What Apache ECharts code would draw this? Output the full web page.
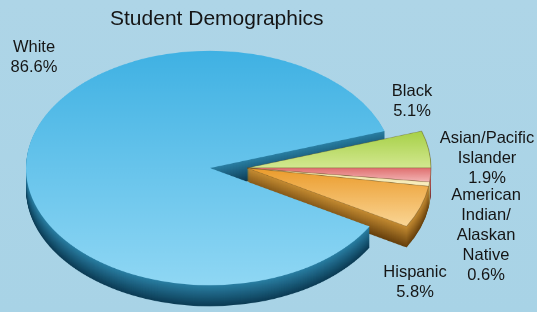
<!DOCTYPE html>
<html>
<head>
<meta charset="utf-8">
<script src="https://cdn.jsdelivr.net/npm/echarts@6/dist/echarts.min.js"></script>
<style>
  html, body { margin: 0; padding: 0; background: #abd4e6; }
  #wrap { position: relative; width: 537px; height: 312px; overflow: hidden; background: linear-gradient(#aed5e7, #a8d3e6); }
  /* pie drawn round, then squashed to look tilted */
  #pie { position: absolute; left: 0; top: 0; width: 537px; height: 500px; transform: scaleY(0.637); transform-origin: 0 0; }
  #labels { position: absolute; left: 0; top: 0; width: 537px; height: 312px; }
</style>
</head>
<body>
<div id="wrap">
  <div id="pie"></div>
  <div id="labels"></div>
</div>
<script>
// data
const categories = ['Black', 'Asian/Pacific\nIslander', 'American\nIndian/\nAlaskan\nNative', 'Hispanic', 'White']
const percents = [5.1, 1.9, 0.6, 5.8, 86.6]
const exploded = [true, true, true, true, false]

// styling
const topColors = [
  ['#a6d046', '#d3e891'],
  ['#df6e6e', '#f4b8b8'],
  ['#efe09a', '#faf0c4'],
  ['#eb9b2b', '#fad696'],
  ['#3fb1e3', '#8fd7f4']
]
const sideColors = [
  ['#86ad35', '#4c6a18'],
  ['#bb5a5a', '#7a3434'],
  ['#cdbb70', '#8a7a40'],
  ['#c48b32', '#66400d'],
  ['#2a7ea2', '#0c3c55']
]

const SCALE = 0.637
const CX = 210
const CY = 168 / SCALE
const R = 184
const SHIFT = 37
const DEPTH = 33
const FONT = 'Liberation Sans, Arial, sans-serif'

const total = percents.reduce((a, b) => a + b, 0)
const startAngle = percents[0] / total * 360

function hex(c) {
  return [1, 3, 5].map(i => parseInt(c.slice(i, i + 2), 16))
}
function mix(a, b, t) {
  const x = hex(a), y = hex(b)
  return 'rgb(' + x.map((v, i) => Math.round(v + (y[i] - v) * t)).join(',') + ')'
}

let zc = 1
function layer(cy, group, colorOf, withBorder) {
  return {
    type: 'pie',
    silent: true,
    animation: false,
    z: zc++,
    center: [group ? CX + SHIFT : CX, cy],
    radius: R,
    startAngle: startAngle,
    clockwise: true,
    avoidLabelOverlap: false,
    label: { show: false },
    labelLine: { show: false },
    data: categories.map((name, i) => ({
      name: name,
      value: percents[i],
      itemStyle: exploded[i] === group
        ? { color: colorOf(i), borderWidth: withBorder && group ? 0.8 : 0, borderColor: 'rgba(90,70,30,0.55)' }
        : { color: 'transparent', borderWidth: 0 }
    }))
  }
}

const series = []
for (let k = DEPTH; k >= 1; k--) {
  const t = (k - 1) / (DEPTH - 1)
  const side = i => mix(sideColors[i][0], sideColors[i][1], t)
  series.push(layer(CY + k, false, side, false))
  series.push(layer(CY + k, true, side, false))
}
const topFill = i => ({
  type: 'linear', x: 0, y: 0, x2: 0, y2: 1,
  colorStops: [{ offset: 0, color: topColors[i][0] }, { offset: 1, color: topColors[i][1] }]
})
series.push(layer(CY, false, topFill, true))
series.push(layer(CY, true, topFill, true))

const pieChart = echarts.init(document.getElementById('pie'), null, { renderer: 'canvas' })
pieChart.setOption({ animation: false, series: series })

// labels, unsquashed
const labelPos = [[412, 101], [487, 158], [486, 235], [415, 282], [34, 57]]
const labelChart = echarts.init(document.getElementById('labels'))
labelChart.setOption({
  animation: false,
  title: {
    text: 'Student Demographics',
    left: 110,
    top: 9,
    padding: 0,
    textStyle: { fontSize: 21, fontWeight: 'normal', color: '#151515', fontFamily: FONT }
  },
  series: [{
    type: 'pie',
    silent: true,
    center: [CX, 168],
    radius: 60,
    startAngle: startAngle,
    avoidLabelOverlap: false,
    itemStyle: { color: 'transparent' },
    labelLine: { show: false },
    label: {
      show: true,
      position: 'outside',
      formatter: p => p.name + '\n' + p.value.toFixed(1) + '%',
      fontSize: 16.5,
      lineHeight: 20,
      color: '#151515',
      fontFamily: FONT
    },
    labelLayout: p => ({
      x: labelPos[p.dataIndex][0],
      y: labelPos[p.dataIndex][1],
      align: 'center',
      verticalAlign: 'middle'
    }),
    data: categories.map((name, i) => ({ name: name, value: percents[i] }))
  }]
})
</script>
</body>
</html>
